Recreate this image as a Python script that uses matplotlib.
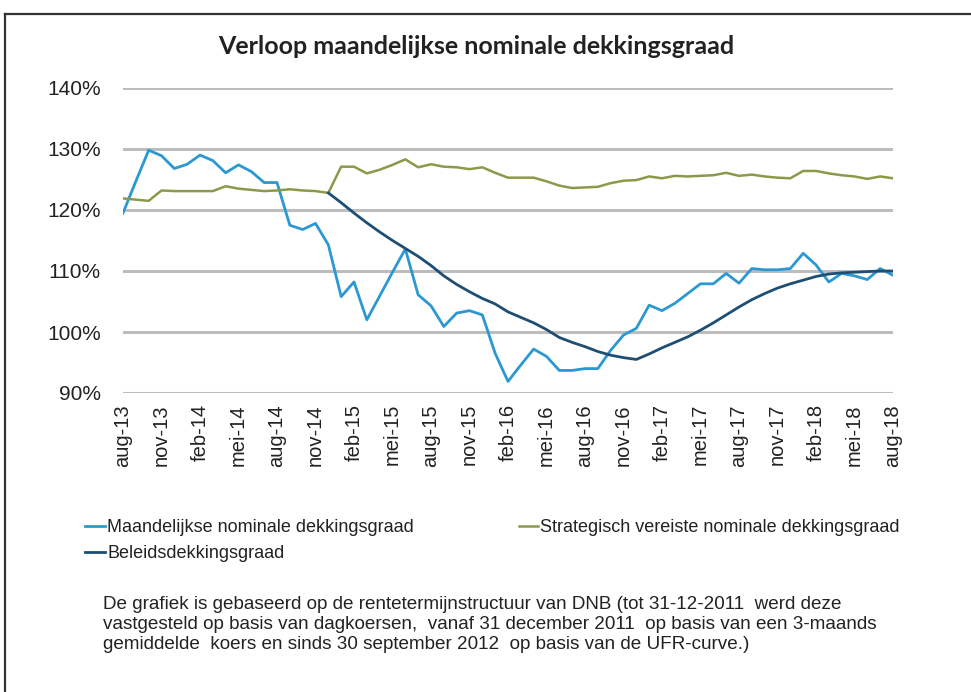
import matplotlib
matplotlib.use("Agg")
import matplotlib.pyplot as plt
from matplotlib.lines import Line2D
import numpy as np

plt.rcParams['font.family'] = ['Liberation Sans', 'DejaVu Sans']

months = ["aug-13", "sep-13", "okt-13", "nov-13", "dec-13", "jan-14", "feb-14", "mrt-14", "apr-14",
          "mei-14", "jun-14", "jul-14", "aug-14", "sep-14", "okt-14", "nov-14", "dec-14", "jan-15",
          "feb-15", "mrt-15", "apr-15", "mei-15", "jun-15", "jul-15", "aug-15", "sep-15", "okt-15",
          "nov-15", "dec-15", "jan-16", "feb-16", "mrt-16", "apr-16", "mei-16", "jun-16", "jul-16",
          "aug-16", "sep-16", "okt-16", "nov-16", "dec-16", "jan-17", "feb-17", "mrt-17", "apr-17",
          "mei-17", "jun-17", "jul-17", "aug-17", "sep-17", "okt-17", "nov-17", "dec-17", "jan-18",
          "feb-18", "mrt-18", "apr-18", "mei-18", "jun-18", "jul-18", "aug-18"]

maandelijks = [119.5, 124.7, 129.8, 128.9, 126.8, 127.5, 129.0, 128.1, 126.1, 127.4,
               126.3, 124.5, 124.5, 117.5, 116.8, 117.8, 114.3, 105.8, 108.2, 102.0,
               105.9, 109.8, 113.6, 106.1, 104.3, 100.9, 103.1, 103.5, 102.8, 96.5,
               91.9, 94.6, 97.2, 96.0, 93.7, 93.7, 94.0, 94.0, 97.0, 99.5,
               100.6, 104.4, 103.5, 104.7, 106.3, 107.9, 107.9, 109.6, 108.0, 110.4,
               110.2, 110.2, 110.4, 112.9, 111.0, 108.2, 109.6, 109.2, 108.6, 110.4, 109.3]

strategisch = [121.9, 121.7, 121.5, 123.2, 123.1, 123.1, 123.1, 123.1, 123.9, 123.5,
               123.3, 123.1, 123.2, 123.4, 123.2, 123.1, 122.8, 127.1, 127.1, 126.0,
               126.6, 127.4, 128.3, 127.0, 127.5, 127.1, 127.0, 126.7, 127.0, 126.1,
               125.3, 125.3, 125.3, 124.7, 124.0, 123.6, 123.7, 123.8, 124.4, 124.8,
               124.9, 125.5, 125.2, 125.6, 125.5, 125.6, 125.7, 126.1, 125.6, 125.8,
               125.5, 125.3, 125.2, 126.4, 126.4, 126.0, 125.7, 125.5, 125.1, 125.5, 125.2]

beleid_start = 16
beleid = [122.8, 121.2, 119.5, 117.9, 116.4, 115.0, 113.7, 112.4, 110.9, 109.2,
          107.8, 106.6, 105.5, 104.6, 103.3, 102.4, 101.5, 100.4, 99.1, 98.3,
          97.6, 96.8, 96.2, 95.8, 95.5, 96.4, 97.4, 98.3, 99.2, 100.3,
          101.5, 102.8, 104.1, 105.3, 106.3, 107.2, 107.9, 108.5, 109.1, 109.5,
          109.7, 109.8, 109.9, 110.0, 110.0]

yticks = [90, 100, 110, 120, 130, 140]
ytick_labels = ["90%", "100%", "110%", "120%", "130%", "140%"]

title = "Verloop maandelijkse nominale dekkingsgraad"
labels = ["Maandelijkse nominale dekkingsgraad", "Strategisch vereiste nominale dekkingsgraad",
          "Beleidsdekkingsgraad"]
footnote = ("De grafiek is gebaseerd op de rentetermijnstructuur van DNB (tot 31-12-2011  werd deze\n"
            "vastgesteld op basis van dagkoersen,  vanaf 31 december 2011  op basis van een 3-maands\n"
            "gemiddelde  koers en sinds 30 september 2012  op basis van de UFR-curve.)")

c_blue = "#2B98D3"
c_green = "#8A9A48"
c_dark = "#1E4E74"

W, H = 971, 692
fig = plt.figure(figsize=(W / 100, H / 100), dpi=100)

ax = fig.add_axes([123 / W, 1 - 393 / H, (893 - 123) / W, (393 - 88) / H])
x = np.arange(len(months))
xb = np.arange(beleid_start, beleid_start + len(beleid))

l1, = ax.plot(x, maandelijks, color=c_blue, lw=2.0, label=labels[0])
l2, = ax.plot(x, strategisch, color=c_green, lw=1.8, label=labels[1])
l3, = ax.plot(xb, beleid, color=c_dark, lw=2.0, label=labels[2])

ax.set_xlim(0, len(months) - 1)
ax.set_ylim(90, 140)
ax.set_yticks(yticks)
ax.set_yticklabels(ytick_labels, fontsize=15, color="#222222")
ax.set_xticks(x[::3])
ax.set_xticklabels(months[::3], rotation=90, fontsize=14.5, color="#222222")
ax.tick_params(length=0)
ax.tick_params(axis='y', pad=16)
ax.tick_params(axis='x', pad=8)
ax.grid(axis='y', color="#BDBDBD", lw=2.2)
ax.set_axisbelow(True)
for s in ax.spines.values():
    s.set_visible(False)

fig.text(476 / W, 1 - 47 / H, title, ha='center', va='center', fontsize=18,
         family=['Lato', 'DejaVu Sans'], fontweight='bold', color="#222222")

leg = fig.legend(handles=[l1, l3, l2], labels=[labels[0], labels[2], labels[1]], ncol=2,
                 loc='upper left', bbox_to_anchor=(71 / W, 1 - 505 / H), frameon=False,
                 fontsize=13, handlelength=1.1, handletextpad=0.1, columnspacing=5.8,
                 labelspacing=0.5, borderpad=0.3)
for t in leg.get_texts():
    t.set_color("#222222")

fig.text(103 / W, 1 - 596 / H, footnote, ha='left', va='top', fontsize=13.6,
         linespacing=1.24, color="#222222")

# frame lines
fig.add_artist(Line2D([5 / W, 1.0], [1 - 14 / H, 1 - 14 / H], color="#333333", lw=1.6))
fig.add_artist(Line2D([5 / W, 5 / W], [1 - 14 / H, 0.0], color="#333333", lw=1.6))

fig.savefig("out.png", dpi=100)
